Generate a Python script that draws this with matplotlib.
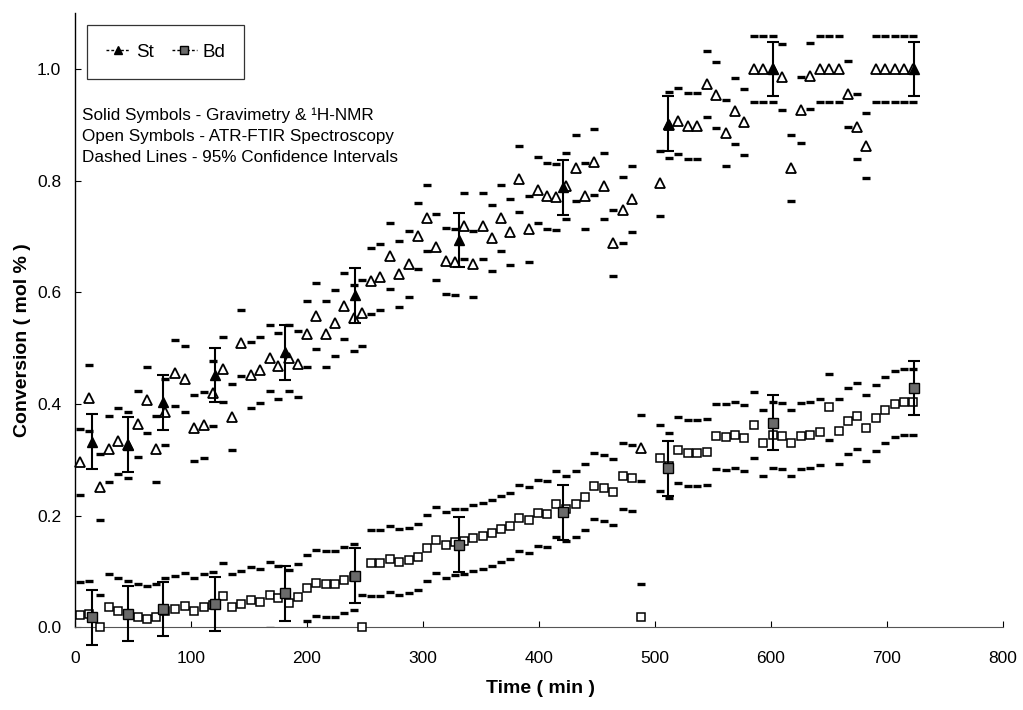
import matplotlib
matplotlib.use("Agg")
import matplotlib.pyplot as plt
from matplotlib.lines import Line2D
import numpy as np

# ATR-FTIR sampling times (min)
ftir_time = [4.6, 12.5, 21.3, 29.3, 37.4, 45.6, 54.2, 61.8, 69.6, 77.6,
             86.4, 94.8, 102.6, 110.9, 119.2, 127.5, 135.6, 143.4, 151.5, 159.5,
             167.7, 175.4, 184.2, 192.1, 199.7, 207.9, 216.0, 224.0, 231.5, 240.5,
             247.6, 255.3, 263.3, 271.5, 279.3, 287.7, 295.5, 303.6, 311.5, 319.8,
             327.2, 335.2, 343.4, 351.3, 359.3, 367.2, 375.3, 383.0, 391.0, 398.9,
             406.9, 415.0, 423.0, 431.8, 439.6, 447.8, 455.9, 464.0, 472.0, 480.0,
             487.5, 503.9, 512.0, 520.2, 528.3, 536.4, 544.8, 552.7, 560.8, 569.0,
             576.8, 584.9, 593.2, 601.6, 609.3, 617.4, 625.7, 633.7, 642.1, 650.1,
             658.2, 666.5, 674.3, 682.2, 690.4, 698.3, 706.5, 714.5, 722.5]

# Styrene conversion from ATR-FTIR
st_ftir = [0.297, 0.411, 0.252, 0.320, 0.334, 0.327, 0.364, 0.407, 0.319, 0.386,
           0.455, 0.445, 0.358, 0.363, 0.419, 0.462, 0.377, 0.510, 0.452, 0.461,
           0.483, 0.468, 0.483, 0.471, 0.525, 0.558, 0.526, 0.545, 0.576, 0.554,
           0.563, 0.621, 0.628, 0.665, 0.633, 0.651, 0.701, 0.734, 0.682, 0.656,
           0.655, 0.719, 0.651, 0.719, 0.698, 0.733, 0.708, 0.803, 0.714, 0.784,
           0.773, 0.770, 0.790, 0.823, 0.773, 0.834, 0.790, 0.689, 0.748, 0.768,
           0.322, 0.795, 0.900, 0.907, 0.898, 0.898, 0.973, 0.954, 0.885, 0.925,
           0.905, 1.000, 1.000, 1.000, 0.986, 0.822, 0.927, 0.988, 1.000, 1.000,
           1.000, 0.955, 0.897, 0.863, 1.000, 1.000, 1.000, 1.000, 1.000]

# Butadiene conversion from ATR-FTIR
bd_ftir = [0.022, 0.024, 0.000, 0.036, 0.030, 0.025, 0.018, 0.015, 0.018, 0.030,
           0.034, 0.039, 0.030, 0.036, 0.040, 0.057, 0.037, 0.042, 0.049, 0.045,
           0.058, 0.052, 0.044, 0.055, 0.070, 0.079, 0.078, 0.078, 0.085, 0.090,
           0.000, 0.116, 0.115, 0.122, 0.118, 0.120, 0.127, 0.142, 0.156, 0.147,
           0.153, 0.154, 0.160, 0.164, 0.170, 0.176, 0.182, 0.196, 0.193, 0.205,
           0.203, 0.221, 0.213, 0.221, 0.234, 0.254, 0.249, 0.242, 0.271, 0.268,
           0.019, 0.303, 0.290, 0.318, 0.312, 0.312, 0.315, 0.342, 0.341, 0.345,
           0.339, 0.363, 0.331, 0.345, 0.343, 0.331, 0.343, 0.345, 0.350, 0.395,
           0.351, 0.369, 0.379, 0.358, 0.375, 0.389, 0.400, 0.404, 0.404]

# Half-width of the 95 % confidence band on the FTIR data
ci_half_st = 0.059
ci_half_bd = 0.059

# Gravimetry / 1H-NMR samples
grav_time = [15, 46, 76, 121, 181, 241, 331, 421, 511, 602, 723]
st_grav = [0.333, 0.327, 0.403, 0.452, 0.493, 0.595, 0.694, 0.788, 0.902, 1.000, 1.000]
bd_grav = [0.018, 0.025, 0.033, 0.042, 0.061, 0.093, 0.148, 0.206, 0.285, 0.367, 0.429]
grav_err = 0.049

x_ticks = [0, 100, 200, 300, 400, 500, 600, 700, 800]
y_ticks = [0.0, 0.2, 0.4, 0.6, 0.8, 1.0]

sans = ["Liberation Sans", "DejaVu Sans"]

fig = plt.figure(figsize=(10.23, 7.10), dpi=100)
ax = fig.add_axes([0.0733, 0.1162, 0.9072, 0.8653])

t = np.array(ftir_time)
st = np.array(st_ftir)
bd = np.array(bd_ftir)

# confidence-interval dashes
dash_kw = dict(ls="none", marker="_", ms=6.2, mew=2.4, color="black", zorder=2)
for series, half in ((st, ci_half_st), (bd, ci_half_bd)):
    ax.plot(t, series + half, **dash_kw)
    ax.plot(t, series - half, **dash_kw)

# open symbols: FTIR
ax.plot(t, st, ls="none", marker="^", ms=6.8, mfc="white", mec="black",
        mew=1.3, zorder=3, clip_on=False)
ax.plot(t, bd, ls="none", marker="s", ms=6.3, mfc="white", mec="black",
        mew=1.1, zorder=3, clip_on=False)

# solid symbols: gravimetry / NMR with error bars
eb_kw = dict(fmt="none", ecolor="black", elinewidth=1.5, capsize=4.5,
             capthick=1.5, zorder=4)
e1 = ax.errorbar(grav_time, st_grav, yerr=grav_err, **eb_kw)
e2 = ax.errorbar(grav_time, bd_grav, yerr=grav_err, **eb_kw)
for cont in (e1, e2):
    for art in cont.lines[1] + cont.lines[2]:
        art.set_clip_on(False)
ax.plot(grav_time, st_grav, ls="none", marker="^", ms=6.8, mfc="black",
        mec="black", zorder=5)
ax.plot(grav_time, bd_grav, ls="none", marker="s", ms=6.5, mfc="#6a6a6a",
        mec="black", mew=1.0, zorder=5, clip_on=False)

ax.set_xlim(0, 800)
ax.set_ylim(0, 1.1)
ax.set_xticks(x_ticks)
ax.set_yticks(y_ticks)
ax.set_yticklabels([f"{v:.1f}" for v in y_ticks])
ax.tick_params(axis="both", direction="in", length=4, width=0.8,
               labelsize=12.5)
ax.tick_params(axis="y", pad=10)
ax.tick_params(axis="x", pad=17)
for lab in ax.get_xticklabels() + ax.get_yticklabels():
    lab.set_family(sans)

for side in ("top", "right"):
    ax.spines[side].set_visible(False)
ax.spines["left"].set_linewidth(1.0)
ax.spines["bottom"].set_linewidth(0.8)
ax.spines["bottom"].set_color("#555555")

ax.set_xlabel("Time ( min )", fontsize=14, fontweight="bold", family=sans)
ax.set_ylabel("Conversion ( mol % )", fontsize=14, fontweight="bold", family=sans)
ax.xaxis.set_label_coords(0.502, -0.086)
ax.yaxis.set_label_coords(-0.047, 0.468)

handles = [
    Line2D([], [], color="black", lw=1.0, ls=(0, (2, 1.5)), marker="^",
           ms=6, mfc="black", mec="black"),
    Line2D([], [], color="black", lw=1.0, ls=(0, (2, 1.5)), marker="s",
           ms=6, mfc="#6a6a6a", mec="black"),
]
leg = ax.legend(handles, ["St", "Bd"], ncol=2, loc="upper left",
                bbox_to_anchor=(0.013, 0.981), frameon=True, fancybox=False,
                borderpad=1.0, handlelength=1.3, handletextpad=0.3,
                columnspacing=1.0, borderaxespad=0.0,
                prop={"family": sans, "size": 13.5})
leg.get_frame().set_edgecolor("black")
leg.get_frame().set_linewidth(0.9)

notes = ("Solid Symbols - Gravimetry & \u00b9H-NMR\n"
         "Open Symbols - ATR-FTIR Spectroscopy\n"
         "Dashed Lines - 95% Confidence Intervals")
ax.text(0.008, 0.846, notes, transform=ax.transAxes, ha="left", va="top",
        fontsize=12.3, family=sans, linespacing=1.5)

fig.savefig("out.png", dpi=100)
